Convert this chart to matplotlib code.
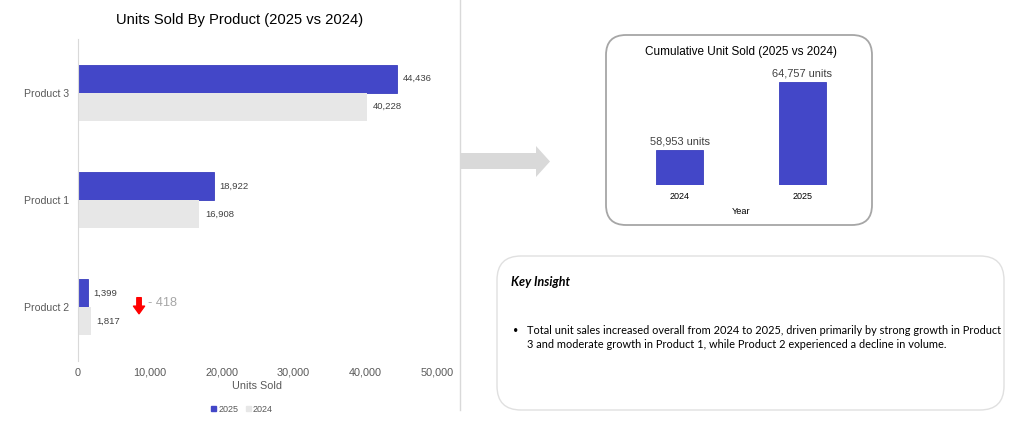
import matplotlib
matplotlib.use("Agg")
import matplotlib.pyplot as plt
from matplotlib.patches import FancyBboxPatch, Polygon, Patch

plt.rcParams['font.family'] = ['Liberation Sans', 'DejaVu Sans']

# data
products = ["Product 2", "Product 1", "Product 3"]
units_2025 = [1399, 18922, 44436]
units_2024 = [1817, 16908, 40228]
years = ["2024", "2025"]
cumulative = [58953, 64757]
x_ticks = [0, 10000, 20000, 30000, 40000, 50000]

blue = "#4347C8"
light = "#E7E7E7"
txt = "#404040"
tick_col = "#595959"

W, H = 1024, 424
fig = plt.figure(figsize=(W / 100, H / 100), dpi=100)


def px_rect(x0, y0, x1, y1):
    # pixel box (top-left origin) -> figure fraction rect
    return [x0 / W, (H - y1) / H, (x1 - x0) / W, (y1 - y0) / H]


# background layer in pixel coords for boxes, divider and arrow
bg = fig.add_axes([0, 0, 1, 1], zorder=0)
bg.set_xlim(0, W)
bg.set_ylim(H, 0)
bg.axis("off")

bg.plot([460, 460], [0, 410], color="#D9D9D9", lw=1)
bg.add_patch(Polygon([[461, 153], [536, 153], [536, 146], [550, 161.5],
                      [536, 177], [536, 169], [461, 169]],
                     closed=True, facecolor="#D9D9D9", edgecolor="none"))
bg.add_patch(FancyBboxPatch((606 + 20, 35 + 20), 266 - 40, 190 - 40,
                            boxstyle="round,pad=20", facecolor="white",
                            edgecolor="#A6A6A6", lw=1.3))
bg.add_patch(FancyBboxPatch((497 + 24, 256 + 24), 507 - 48, 154 - 48,
                            boxstyle="round,pad=24", facecolor="white",
                            edgecolor="#E0E0E0", lw=1.0))

# key insight text
font_ki = ["Lato", "DejaVu Sans"]
bg.text(511, 282, "Key Insight", fontsize=9.0, fontweight="bold", style="italic",
        family=font_ki, color="black", va="center")
bg.text(513, 331, "•", fontsize=6.5, family=font_ki, va="center")
bg.text(527, 331, "Total unit sales increased overall from 2024 to 2025, driven primarily by strong growth in Product",
        fontsize=7.9, family=font_ki, color="black", va="center")
bg.text(527, 345, "3 and moderate growth in Product 1, while Product 2 experienced a decline in volume.",
        fontsize=7.9, family=font_ki, color="black", va="center")

# left chart: units by product
ax = fig.add_axes(px_rect(78, 39, 437, 361), zorder=1)
ax.set_facecolor("none")
pos = list(range(len(products)))
h = 0.26
b25 = ax.barh([p + h / 2 for p in pos], units_2025, height=h, color=blue,
              edgecolor="#3A3EBD", lw=0.6, label="2025")
b24 = ax.barh([p - h / 2 for p in pos], units_2024, height=h, color=light,
              label="2024")
ax.bar_label(b25, labels=[f"{v:,}" for v in units_2025], padding=4,
             fontsize=6.8, color=txt)
ax.bar_label(b24, labels=[f"{v:,}" for v in units_2024], padding=4,
             fontsize=6.8, color=txt)
ax.set_xlim(0, 50000)
ax.set_ylim(-0.5, 2.5)
ax.set_yticks(pos)
ax.set_yticklabels(products, fontsize=7.6, color=tick_col)
ax.set_xticks(x_ticks)
ax.set_xticklabels([f"{v:,}" for v in x_ticks], fontsize=7.8, color=tick_col)
ax.tick_params(axis="x", length=0, pad=5)
ax.tick_params(axis="y", length=0, pad=6.5)
for s in ["top", "right", "bottom"]:
    ax.spines[s].set_visible(False)
ax.spines["left"].set_color("#D9D9D9")
ax.set_xlabel("Units Sold", fontsize=7.8, color=tick_col, labelpad=2)
ax.set_title("Units Sold By Product (2025 vs 2024)", fontsize=10.6,
             color="black", pad=11, x=0.45)

# decline marker for Product 2
diff = units_2025[0] - units_2024[0]
ax.annotate("", xy=(8500, -0.06), xytext=(8500, 0.09),
            arrowprops=dict(arrowstyle="simple,head_length=0.55,head_width=0.8,tail_width=0.32",
                            color="red", shrinkA=0, shrinkB=0, mutation_scale=10))
ax.text(9750, 0.04, f"- {abs(diff)}", fontsize=9.2, color="#A6A6A6", va="center")

fig.legend(handles=[Patch(color=blue, label="2025"), Patch(color=light, label="2024")],
           loc="center", bbox_to_anchor=(242 / W, (H - 409) / H), ncol=2,
           frameon=False, fontsize=6.5, handlelength=0.55, handleheight=0.55,
           handletextpad=0.25, columnspacing=0.8, labelcolor=tick_col)

# right chart: cumulative units
ax2 = fig.add_axes(px_rect(618, 65, 864, 185), zorder=1)
ax2.set_facecolor("none")
xb = list(range(len(years)))
cb = ax2.bar(xb, cumulative, width=0.39, color=blue, edgecolor="#3A3EBD", lw=0.6)
ax2.bar_label(cb, labels=[f"{v:,} units" for v in cumulative], padding=3,
              fontsize=7.9, color=txt)
ax2.set_ylim(56000, 66250)
ax2.set_xlim(-0.5, 1.5)
ax2.set_yticks([])
ax2.set_xticks(xb)
ax2.set_xticklabels(years, fontsize=6.5, color="black")
ax2.tick_params(length=0, pad=5)
for s in ax2.spines.values():
    s.set_visible(False)
ax2.set_xlabel("Year", fontsize=6.6, color="black", labelpad=4)
fig.text(741 / W, (H - 52) / H, "Cumulative Unit Sold (2025 vs 2024)",
         fontsize=8.5, ha="center", va="center", color="black")

fig.savefig("out.png", dpi=100)
